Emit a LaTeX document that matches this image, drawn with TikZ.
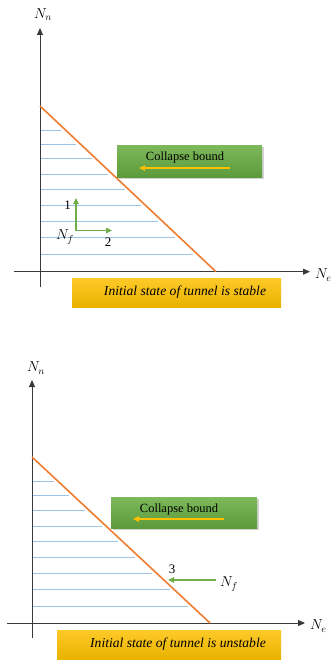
\documentclass[tikz,border=0pt]{standalone}
\usepackage{fontspec}
\setmainfont{Liberation Serif}
\usetikzlibrary{arrows.meta,shadows}
\definecolor{axisc}{HTML}{3A3A3A}
\definecolor{boundc}{HTML}{ED7D31}
\definecolor{hatchc}{HTML}{9DC3E6}
\definecolor{greenarr}{HTML}{70AD47}
\definecolor{greentop}{HTML}{7DB95A}
\definecolor{greenbot}{HTML}{5C9A3C}
\definecolor{yelarr}{HTML}{FFC000}
\definecolor{orgtop}{HTML}{FFCA28}
\definecolor{orgbot}{HTML}{E9B300}
\tikzset{
  axisline/.style={draw=axisc, line width=0.9pt, -{Triangle[length=7pt,width=6pt]}},
  boundline/.style={draw=boundc, line width=1.6pt},
  hatchline/.style={draw=hatchc, line width=0.7pt},
  greenarrow/.style={draw=greenarr, line width=1.6pt, -{Triangle[length=6pt,width=5.5pt]}},
  yelarrow/.style={draw=yelarr, line width=1.6pt, -{Triangle[length=6pt,width=5.5pt]}},
  collbox/.style={draw=none, top color=greentop, bottom color=greenbot,
     drop shadow={opacity=0.35, shadow xshift=1.5pt, shadow yshift=-1.5pt}},
  statebox/.style={draw=none, top color=orgtop, bottom color=orgbot},
  axlabel/.style={font=\fontsize{14.5}{16}\selectfont, inner sep=0pt},
  nflabel/.style={font=\fontsize{14}{16}\selectfont, inner sep=0pt},
  numlabel/.style={font=\fontsize{13}{15}\selectfont, inner sep=0pt},
  boxtext/.style={font=\fontsize{12.5}{14}\selectfont, inner sep=0pt},
  statetext/.style={font=\fontsize{13.6}{15}\selectfont\itshape, inner sep=0pt}
}
\begin{document}
\begin{tikzpicture}[x=1pt,y=-1pt]
\useasboundingbox (0,0) rectangle (332,661);
% ---------------- top panel ----------------
\coordinate (yb1) at (40,287);
\coordinate (yt1) at (40,28);
\coordinate (xl1) at (14,271.7);
\coordinate (xr1) at (310,271.7);
\coordinate (o1a) at (40,106);
\coordinate (o1b) at (216,271.7);
\foreach \yy in {130,144,158.5,174,189.5,205,221,237,254}{
  \pgfmathsetmacro\xe{40+(\yy-106)*1.0622-4}
  \draw[hatchline] (40,\yy) -- (\xe,\yy);
}
\draw[axisline] (yb1) -- (yt1);
\draw[axisline] (xl1) -- (xr1);
\draw[boundline] (o1a) -- (o1b);
\node[axlabel] (nn1) at (43,15) {$N_n$};
\node[axlabel, anchor=west] (ne1) at (315,275) {$N_e$};
% collapse bound box
\path[collbox] (117,145) rectangle (262,177);
\node[boxtext] (cb1) at (185,157.5) {Collapse bound};
\coordinate (ya1) at (230,168);
\coordinate (yb1a) at (139,168);
\draw[yelarrow] (ya1) -- (yb1a);
% green arrows
\coordinate (c1) at (76,230.5);
\coordinate (u1) at (76,198);
\coordinate (r1) at (112,230.5);
\draw[greenarrow] (c1) -- (u1);
\draw[greenarrow] ([xshift=-0.8pt]c1) -- (r1);
\node[numlabel] (one) at (67.5,205) {1};
\node[numlabel] (two) at (108,242.5) {2};
\node[nflabel] (nf1) at (65,237) {$N_f$};
% state box
\path[statebox] (72,278) rectangle (281,307);
\node[statetext] (st1) at (185,292.5) {Initial state of tunnel is stable};
% ---------------- bottom panel ----------------
\coordinate (yb2) at (32,638);
\coordinate (yt2) at (32,380);
\coordinate (xl2) at (7,623);
\coordinate (xr2) at (305,623);
\coordinate (o2a) at (32,457);
\coordinate (o2b) at (210,623);
\foreach \yy in {481,495,510,526,541,557,573,589,606}{
  \pgfmathsetmacro\xe{32+(\yy-457)*1.0723-4}
  \draw[hatchline] (32,\yy) -- (\xe,\yy);
}
\draw[axisline] (yb2) -- (yt2);
\draw[axisline] (xl2) -- (xr2);
\draw[boundline] (o2a) -- (o2b);
\node[axlabel] (nn2) at (36,368) {$N_n$};
\node[axlabel, anchor=west] (ne2) at (310,626) {$N_e$};
\path[collbox] (111,497) rectangle (257,528);
\node[boxtext] (cb2) at (179,509) {Collapse bound};
\coordinate (ya2) at (224,519);
\coordinate (yb2a) at (133,519);
\draw[yelarrow] (ya2) -- (yb2a);
\node[numlabel] (three) at (172,569) {3};
\coordinate (g2s) at (216,580);
\coordinate (g2e) at (168,580);
\draw[greenarrow] (g2s) -- (g2e);
\node[nflabel] (nf2) at (229,584) {$N_f$};
\path[statebox] (57,630) rectangle (281,659);
\node[statetext] (st2) at (178,644) {Initial state of tunnel is unstable};
\end{tikzpicture}
\end{document}
